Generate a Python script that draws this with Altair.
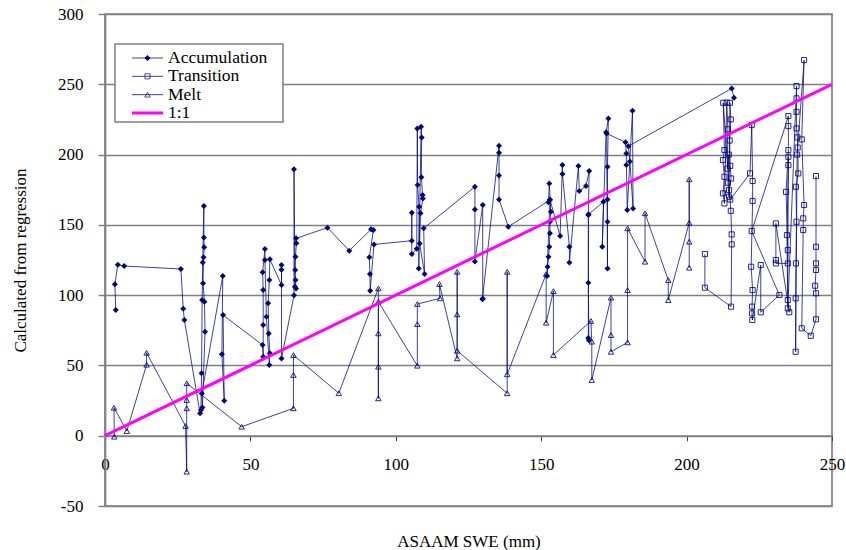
import altair as alt
import pandas as pd

# ---------------- data ----------------
acc_x = [3.7, 3.4, 4.4, 6.6, 26.1, 26.9, 27.3,
         32.7, 33.0, 33.2, 33.4, 33.6, 34.0, 34.0, 34.1, 33.9, 33.7, 34.2, 34.4, 33.5, 33.3,
         40.5, 40.2, 41.0, 40.6,
         54.2, 54.4, 54.4, 54.4, 54.2, 55.0, 55.0, 55.5, 56.5, 56.7, 56.3, 56.1, 56.5, 56.7,
         60.7, 60.7, 60.7, 60.7,
         65.0, 65.0, 65.3, 65.7, 65.5, 65.4, 65.5, 65.8, 65.7,
         76.5, 84.0, 91.5, 92.3, 90.9, 91.1, 91.2, 92.5,
         105.5, 105.5, 105.5, 107.2, 107.4, 107.5, 108.0, 107.9, 108.7, 108.9, 108.8, 109.2,
         109.3, 108.5, 108.2, 109.9, 109.6,
         127.2, 127.2, 127.2, 129.9, 129.9, 129.8,
         135.5, 135.5, 135.5, 135.5, 138.7,
         153.0, 152.5, 152.8, 153.3, 153.0, 153.0, 152.8, 152.5, 152.2, 152.0, 153.0,
         156.5, 157.3, 157.3, 159.7, 159.7, 162.8, 163.1, 165.4, 166.5, 166.2, 166.2, 166.4,
         166.2, 166.3,
         171.4, 171.0, 172.3, 173.1, 172.8, 172.8, 172.8, 172.8, 172.5,
         179.0, 179.3, 179.3, 179.6, 181.4, 181.6, 180.5, 180.0,
         215.5, 216.3]
acc_y = [89.4, 107.7, 121.6, 120.7, 118.6, 90.3, 82.3,
         15.9, 18.3, 44.4, 96.5, 123.3, 163.4, 141.0, 134.0, 126.9, 108.4, 95.3, 74.0, 20.0, 30.0,
         113.6, 57.9, 24.9, 85.8,
         64.5, 56.2, 78.7, 103.6, 116.2, 132.8, 125.0, 84.6, 50.3, 58.6, 72.8, 94.2, 110.7, 125.5,
         107.2, 121.4, 118.0, 55.0,
         100.0, 189.5, 106.0, 104.8, 110.7, 117.9, 127.3, 136.9, 140.4,
         148.0, 131.6, 146.8, 146.3, 126.9, 115.0, 103.1, 136.1,
         138.7, 158.6, 129.2, 133.0, 218.6, 178.3, 162.9, 119.0, 219.8, 212.2, 183.8, 171.2,
         168.8, 158.2, 136.8, 115.0, 147.5,
         177.1, 161.0, 124.0, 164.1, 97.7, 97.0,
         206.3, 201.3, 185.2, 168.1, 148.7,
         167.6, 166.0, 179.5, 159.3, 152.2, 144.0, 134.4, 127.3, 120.2, 113.6, 168.0,
         142.0, 192.5, 186.1, 134.4, 123.3, 191.8, 174.0, 177.6, 188.3, 157.0, 108.8, 68.0,
         69.5, 157.5,
         166.4, 134.4, 215.8, 225.7, 191.3, 168.0, 152.2, 119.0, 215.0,
         208.7, 200.8, 192.5, 160.5, 231.1, 161.7, 195.0, 206.0,
         247.0, 240.4]

tra_x = [206.3, 206.3, 215.3, 215.5, 215.5, 215.2,
         212.6, 213.0, 212.5, 213.0, 212.5, 213.0,
         213.8, 214.2, 214.0, 214.5, 214.2, 214.6,
         214.9, 215.2, 214.8, 215.0, 215.3, 214.6, 215.0,
         221.8, 222.4, 222.7, 222.7, 222.2, 222.7, 222.5, 222.5, 222.6,
         225.5, 225.5, 231.9, 222.4,
         235.0, 235.0, 235.0, 234.2, 234.8, 234.8, 235.3,
         230.7, 230.7, 230.7, 234.8, 235.0, 235.0, 234.5, 234.8,
         237.8, 237.8, 237.8, 237.8, 238.1, 238.4, 237.6, 237.8, 237.6, 237.5, 237.5, 238.0, 238.2,
         240.4, 239.6, 240.4, 240.1, 240.1, 239.6,
         242.7, 244.5, 244.5, 244.2, 244.5, 244.5, 244.5, 244.5]
tra_y = [129.2, 105.3, 91.8, 136.1, 143.2, 160.0,
         236.8, 203.2, 196.1, 184.2, 172.4, 165.3,
         237.0, 218.0, 190.0, 200.0, 180.0, 170.0,
         236.8, 225.0, 210.0, 192.0, 183.0, 174.7, 168.0,
         186.6, 221.0, 181.2, 166.9, 120.2, 103.6, 91.8, 87.0, 82.3,
         121.4, 87.8, 100.1, 145.6,
         227.4, 220.3, 203.2, 173.5, 132.0, 96.5, 87.8,
         151.0, 125.0, 122.6, 122.6, 198.4, 192.5, 142.7, 90.6,
         248.7, 240.0, 230.4, 218.6, 212.2, 186.6, 177.1, 152.2, 122.6, 97.7, 59.7, 200.0, 205.0,
         267.2, 210.8, 164.1, 154.6, 146.3, 76.4,
         71.1, 82.8, 101.3, 106.7, 117.9, 122.6, 134.4, 184.7]

mel_x = [3.2, 3.1, 7.5, 14.3, 14.3, 27.7, 28.1, 28.1, 28.1, 28.1,
         47.0, 64.8, 64.8, 64.8, 80.4,
         94.0, 94.0, 94.0, 94.0, 94.0,
         107.4, 107.4, 107.4, 115.2, 115.0,
         121.1, 121.1, 121.1, 121.1,
         138.3, 138.3, 138.3,
         151.7, 151.7, 154.2, 154.2,
         167.1, 167.4, 167.4, 174.0, 174.0, 174.0,
         179.7, 179.7, 179.7, 185.7, 185.7, 193.7, 193.7,
         200.9, 200.9, 200.9, 200.9]
mel_y = [-0.7, 19.9, 3.3, 50.5, 59.0, 6.9, -25.6, 19.5, 25.4, 37.3,
         6.4, 19.5, 43.2, 57.4, 30.2,
         104.8, 26.6, 49.1, 72.8, 95.3,
         49.8, 79.4, 93.7, 97.7, 107.9,
         55.0, 116.6, 86.3, 60.5,
         30.2, 116.6, 43.7,
         115.0, 80.4, 102.9, 57.4,
         81.6, 66.9, 39.6, 98.2, 71.6, 59.7,
         66.4, 103.6, 147.5, 123.8, 158.2, 110.7, 96.5,
         151.5, 182.4, 138.0, 119.5]

one_x = [0, 250]
one_y = [0, 250]

legend_names = ["Accumulation", "Transition", "Melt", "1:1"]
x_ticks = [0, 50, 100, 150, 200, 250]
y_ticks = [-50, 0, 50, 100, 150, 200, 250, 300]

# ---------------- tables ----------------
rows = []
for name, xs, ys in [("Accumulation", acc_x, acc_y),
                     ("Transition", tra_x, tra_y),
                     ("Melt", mel_x, mel_y)]:
    for i, (a, b) in enumerate(zip(xs, ys)):
        rows.append({"series": name, "x": a, "y": b, "idx": i})
df = pd.DataFrame(rows)
one_df = pd.DataFrame({"x": one_x, "y": one_y})
leg_df = pd.DataFrame({"name": legend_names})

NAVY = "#000080"
GRID = "#808080"
FONT = "Times New Roman, Liberation Serif, DejaVu Serif, serif"

xscale = alt.Scale(domain=[0, 250], nice=False, zero=False)
yscale = alt.Scale(domain=[-50, 300], nice=False, zero=False)

xaxis = alt.Axis(values=x_ticks, offset=-70.3, grid=False,
                 domainColor=GRID, domainWidth=1.7,
                 tickSize=5, tickColor="#404040", tickWidth=1,
                 labelFont=FONT, labelFontSize=17, labelColor="black",
                 labelPadding=16, labelFlush=False,
                 title="ASAAM SWE (mm)", titleFont=FONT, titleFontSize=17,
                 titleFontWeight="normal", titleColor="black",
                 titleY=106, titleBaseline="middle")
yaxis = alt.Axis(values=y_ticks, grid=True, gridColor=GRID, gridWidth=1.7,
                 domainColor=GRID, domainWidth=1.7,
                 tickSize=7, tickColor=GRID, tickWidth=1.5,
                 labelFont=FONT, labelFontSize=17, labelColor="black",
                 labelPadding=15, labelExpr="'' + datum.value",
                 title="Calculated from regression", titleFont=FONT,
                 titleFontSize=17, titleFontWeight="normal", titleColor="black",
                 titlePadding=28)

X = alt.X("x:Q", scale=xscale, axis=xaxis)
Y = alt.Y("y:Q", scale=yscale, axis=yaxis)

lines = alt.Chart(df).mark_line(color=NAVY, strokeWidth=1, opacity=0.75).encode(
    x=X, y=Y, detail="series:N", order="idx:Q")

acc_pts = alt.Chart(df).transform_filter(alt.datum.series == "Accumulation").mark_point(
    shape="diamond", filled=True, size=36, color=NAVY, opacity=1).encode(x=X, y=Y)
tra_pts = alt.Chart(df).transform_filter(alt.datum.series == "Transition").mark_point(
    shape="square", filled=False, size=26, color=NAVY, strokeWidth=1, opacity=0.85).encode(x=X, y=Y)
mel_pts = alt.Chart(df).transform_filter(alt.datum.series == "Melt").mark_point(
    shape="triangle-up", filled=False, size=30, color=NAVY, strokeWidth=1, opacity=0.85).encode(x=X, y=Y)

one = alt.Chart(one_df).mark_line(color="#FF00FF", strokeWidth=3).encode(x=X, y=Y)

main = alt.layer(lines, acc_pts, tra_pts, mel_pts, one)

# ---------------- legend (inside the plot, top-left) ----------------
leg_y = alt.Y("name:N", scale=alt.Scale(type="point", domain=legend_names,
                                          range=[44, 99], padding=0), axis=None)
box = alt.Chart(pd.DataFrame({"a": [0]})).mark_rect(
    fill="white", stroke=GRID, strokeWidth=1.5).encode(
    x=alt.value(10), x2=alt.value(178), y=alt.value(30), y2=alt.value(108))
leg_lines = alt.Chart(leg_df).transform_filter(alt.datum.name != "1:1").mark_rule(
    color=NAVY, strokeWidth=1, opacity=0.75).encode(
    x=alt.value(27), x2=alt.value(58), y=leg_y)
leg_one = alt.Chart(leg_df).transform_filter(alt.datum.name == "1:1").mark_rule(
    color="#FF00FF", strokeWidth=3).encode(x=alt.value(27), x2=alt.value(58), y=leg_y)
leg_acc = alt.Chart(leg_df).transform_filter(alt.datum.name == "Accumulation").mark_point(
    shape="diamond", filled=True, size=36, color=NAVY, opacity=1).encode(x=alt.value(42.5), y=leg_y)
leg_tra = alt.Chart(leg_df).transform_filter(alt.datum.name == "Transition").mark_point(
    shape="square", filled=False, size=26, color=NAVY, strokeWidth=1).encode(x=alt.value(42.5), y=leg_y)
leg_mel = alt.Chart(leg_df).transform_filter(alt.datum.name == "Melt").mark_point(
    shape="triangle-up", filled=False, size=30, color=NAVY, strokeWidth=1).encode(x=alt.value(42.5), y=leg_y)
leg_text = alt.Chart(leg_df).mark_text(
    align="left", baseline="middle", font=FONT, fontSize=17.5, color="black").encode(
    x=alt.value(63), y=leg_y, text="name:N")

legend = alt.layer(box, leg_lines, leg_one, leg_acc, leg_tra, leg_mel, leg_text)

chart = alt.layer(main, legend).resolve_scale(y="independent").properties(
    width=727, height=492,
    padding={"left": 105, "top": 14, "right": 14, "bottom": 44},
    autosize=alt.AutoSizeParams(type="none"),
    background="white",
).configure_view(stroke=GRID, strokeWidth=1.7)

chart.save("out.html", embed_options={"renderer": "svg", "actions": False})
